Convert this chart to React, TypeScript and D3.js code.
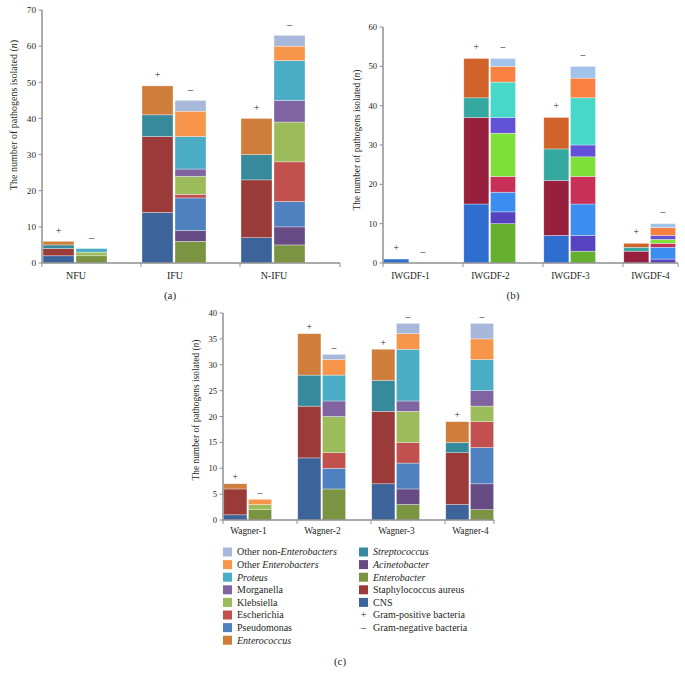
import * as d3 from 'd3';

const POS_KEYS = ['CNS', 'Staphylococcus aureus', 'Streptococcus', 'Enterococcus'];
const NEG_KEYS = [
  'Enterobacter', 'Acinetobacter', 'Pseudomonas', 'Escherichia', 'Klebsiella',
  'Morganella', 'Proteus', 'Other Enterobacters', 'Other non-Enterobacters',
];

// (a) by ulcer type
const GROUPS_A = ['NFU', 'IFU', 'N-IFU'];
const POS_A = [[2, 2, 1, 1], [14, 21, 6, 8], [7, 16, 7, 10]];
const NEG_A = [[2, 0, 0, 0, 1, 0, 1, 0, 0], [6, 3, 9, 1, 5, 2, 9, 7, 3], [5, 5, 7, 11, 11, 6, 11, 4, 3]];
const Y_TICKS_A = [0, 10, 20, 30, 40, 50, 60, 70];

// (b) by IWGDF grade
const GROUPS_B = ['IWGDF-1', 'IWGDF-2', 'IWGDF-3', 'IWGDF-4'];
const POS_B = [[1, 0, 0, 0], [15, 22, 5, 10], [7, 14, 8, 8], [0, 3, 1, 1]];
const NEG_B = [
  [0, 0, 0, 0, 0, 0, 0, 0, 0], [10, 3, 5, 4, 11, 4, 9, 4, 2],
  [3, 4, 8, 7, 5, 3, 12, 5, 3], [0, 1, 3, 1, 1, 1, 0, 2, 1],
];
const Y_TICKS_B = [0, 10, 20, 30, 40, 50, 60];

// (c) by Wagner grade
const GROUPS_C = ['Wagner-1', 'Wagner-2', 'Wagner-3', 'Wagner-4'];
const POS_C = [[1, 5, 0, 1], [12, 10, 6, 8], [7, 14, 6, 6], [3, 10, 2, 4]];
const NEG_C = [
  [2, 0, 0, 0, 1, 0, 0, 1, 0], [6, 0, 4, 3, 7, 3, 5, 3, 1],
  [3, 3, 5, 4, 6, 2, 10, 3, 2], [2, 5, 7, 5, 3, 3, 6, 4, 3],
];
const Y_TICKS_C = [0, 5, 10, 15, 20, 25, 30, 35, 40];

const LEGEND_COL1 = [
  'Other non-Enterobacters', 'Other Enterobacters', 'Proteus', 'Morganella',
  'Klebsiella', 'Escherichia', 'Pseudomonas', 'Enterococcus',
];
const LEGEND_COL2 = ['Streptococcus', 'Acinetobacter', 'Enterobacter', 'Staphylococcus aureus', 'CNS'];
const ITALIC_WORDS = ['Enterobacters', 'Streptococcus', 'Acinetobacter', 'Enterococcus', 'Enterobacter', 'Proteus'];

const COLORS_AC: Record<string, string> = {
  'CNS': '#3d649a',
  'Staphylococcus aureus': '#9a3b3a',
  'Streptococcus': '#378a9c',
  'Enterococcus': '#cf7d3a',
  'Enterobacter': '#7a9442',
  'Acinetobacter': '#664b85',
  'Pseudomonas': '#4f80bf',
  'Escherichia': '#c2504e',
  'Klebsiella': '#9cbb5a',
  'Morganella': '#8064a2',
  'Proteus': '#4bacc6',
  'Other Enterobacters': '#f7964a',
  'Other non-Enterobacters': '#a8b8da',
};

const COLORS_B: Record<string, string> = {
  'CNS': '#2f6ecf',
  'Staphylococcus aureus': '#98203f',
  'Streptococcus': '#36a8a2',
  'Enterococcus': '#d0622a',
  'Enterobacter': '#66b030',
  'Acinetobacter': '#5742c0',
  'Pseudomonas': '#3b8ef0',
  'Escherichia': '#c8305a',
  'Klebsiella': '#80e03a',
  'Morganella': '#6152d8',
  'Proteus': '#48d8ca',
  'Other Enterobacters': '#f88040',
  'Other non-Enterobacters': '#a2c4ec',
};

const FONT = "'Liberation Serif', 'DejaVu Serif', serif";
const INK = '#231f20';
const AXIS = '#8f8f8f';

type Layout = {
  x0: number; xEnd: number; step: number; bottom: number; top: number;
  fs: number; titleX: number; titleY: number; signGap: number;
  tag: string; tagX: number; tagY: number; labelY: number;
};

function toRows(vals: number[][], keys: string[]) {
  return vals.map(v => Object.fromEntries(keys.map((k, i) => [k, v[i]])));
}

function Panel({ groups, pos, neg, ticks, colors, L }: {
  groups: string[]; pos: number[][]; neg: number[][]; ticks: number[];
  colors: Record<string, string>; L: Layout;
}) {
  const y = d3.scaleLinear().domain([0, d3.max(ticks)!]).range([L.bottom, L.top]);
  const x = d3.scaleBand().domain(groups).range([L.x0, L.x0 + L.step * groups.length]);
  const slot = d3.scaleBand().domain(['+', '–', '']).range([0, x.bandwidth()])
    .paddingInner(0.06).paddingOuter(0.03);
  const bw = slot.bandwidth();

  const stacks = [
    { sign: '+', series: d3.stack().keys(POS_KEYS)(toRows(pos, POS_KEYS) as any), vals: pos },
    { sign: '–', series: d3.stack().keys(NEG_KEYS)(toRows(neg, NEG_KEYS) as any), vals: neg },
  ];
  const xTicks = [...groups.map(g => x(g)!), L.xEnd];

  return (
    <g fontFamily={FONT} fill={INK}>
      {stacks.map(st => st.series.map(s => s.map((d, i) => d[1] - d[0] > 0 ? (
        <rect key={`${st.sign}-${s.key}-${i}`}
          x={x(groups[i])! + slot(st.sign)!} width={bw}
          y={y(d[1])} height={y(d[0]) - y(d[1])}
          fill={colors[s.key]} stroke="#fff" strokeOpacity={0.55} strokeWidth={0.6} />
      ) : null)))}
      {stacks.map(st => groups.map((g, i) => (
        <text key={`s${st.sign}${g}`} x={x(g)! + slot(st.sign)! + bw / 2}
          y={y(d3.sum(st.vals[i])) - L.signGap} textAnchor="middle" dominantBaseline="central"
          fontSize={L.fs + 1}>{st.sign}</text>
      )))}
      {/* y axis */}
      <line x1={L.x0} x2={L.x0} y1={L.bottom} y2={L.top} stroke={AXIS} strokeWidth={1.5} />
      {ticks.map(t => (
        <g key={t}>
          <line x1={L.x0 - 3.5} x2={L.x0} y1={y(t)} y2={y(t)} stroke={AXIS} strokeWidth={1} />
          <text x={L.x0 - 6} y={y(t)} dy="0.35em" textAnchor="end" fontSize={L.fs}>{t}</text>
        </g>
      ))}
      {/* x axis */}
      <line x1={L.x0} x2={L.xEnd} y1={L.bottom} y2={L.bottom} stroke={AXIS} strokeWidth={1.5} />
      {xTicks.map((t, i) => (
        <line key={i} x1={t} x2={t} y1={L.bottom} y2={L.bottom + 4} stroke={AXIS} strokeWidth={1} />
      ))}
      {groups.map(g => (
        <text key={g} x={x(g)! + slot('–')!} y={L.labelY} textAnchor="middle" fontSize={L.fs + 0.8}>{g}</text>
      ))}
      <text transform={`translate(${L.titleX},${L.titleY}) rotate(-90)`} textAnchor="middle"
        dominantBaseline="central" fontSize={L.fs + 0.8}>
        The number of pathogens isolated (<tspan fontStyle="italic">n</tspan>)
      </text>
      <text x={L.tagX} y={L.tagY} textAnchor="middle" fontSize={11}>{L.tag}</text>
    </g>
  );
}

function LegendLabel({ label }: { label: string }) {
  const w = ITALIC_WORDS.find(k => label.includes(k));
  if (!w) return <>{label}</>;
  const i = label.indexOf(w);
  return (
    <>
      {label.slice(0, i)}
      <tspan fontStyle="italic">{w}</tspan>
      {label.slice(i + w.length)}
    </>
  );
}

function Legend() {
  const row = (i: number) => 552 + i * 12.6;
  const items = [
    ...LEGEND_COL1.map((k, i) => ({ k, sx: 223, ty: row(i) })),
    ...LEGEND_COL2.map((k, i) => ({ k, sx: 359, ty: row(i) })),
  ];
  const signs = [['+', 'Gram-positive bacteria'], ['–', 'Gram-negative bacteria']];
  return (
    <g fontFamily={FONT} fill={INK} fontSize={10}>
      {items.map(d => (
        <g key={d.k}>
          <rect x={d.sx} y={d.ty - 4.5} width={9} height={9} fill={COLORS_AC[d.k]} />
          <text x={d.sx + 14} y={d.ty} dy="0.33em"><LegendLabel label={d.k} /></text>
        </g>
      ))}
      {signs.map(([s, t], i) => (
        <g key={t}>
          <text x={363.5} y={row(LEGEND_COL2.length + i)} dy="0.33em" textAnchor="middle">{s}</text>
          <text x={373} y={row(LEGEND_COL2.length + i)} dy="0.33em">{t}</text>
        </g>
      ))}
      <text x={340} y={665} textAnchor="middle" fontSize={11}>(c)</text>
    </g>
  );
}

export default function App() {
  const LA: Layout = {
    x0: 42, xEnd: 340, step: 99, bottom: 263, top: 10, fs: 9.2,
    titleX: 13, titleY: 115, signGap: 11, tag: '(a)', tagX: 170, tagY: 299, labelY: 279,
  };
  const LB: Layout = {
    x0: 383, xEnd: 678, step: 80, bottom: 263, top: 27, fs: 8.6,
    titleX: 357, titleY: 140, signGap: 12, tag: '(b)', tagX: 513, tagY: 299, labelY: 279,
  };
  const LC: Layout = {
    x0: 223, xEnd: 494, step: 74, bottom: 520, top: 313, fs: 8.6,
    titleX: 196, titleY: 410, signGap: 7, tag: '', tagX: 0, tagY: 0, labelY: 534,
  };
  return (
    <svg width={685} height={683} style={{ position: 'absolute', left: 0, top: 0, background: '#fff' }}>
      <Panel groups={GROUPS_A} pos={POS_A} neg={NEG_A} ticks={Y_TICKS_A} colors={COLORS_AC} L={LA} />
      <Panel groups={GROUPS_B} pos={POS_B} neg={NEG_B} ticks={Y_TICKS_B} colors={COLORS_B} L={LB} />
      <Panel groups={GROUPS_C} pos={POS_C} neg={NEG_C} ticks={Y_TICKS_C} colors={COLORS_AC} L={LC} />
      <Legend />
    </svg>
  );
}
